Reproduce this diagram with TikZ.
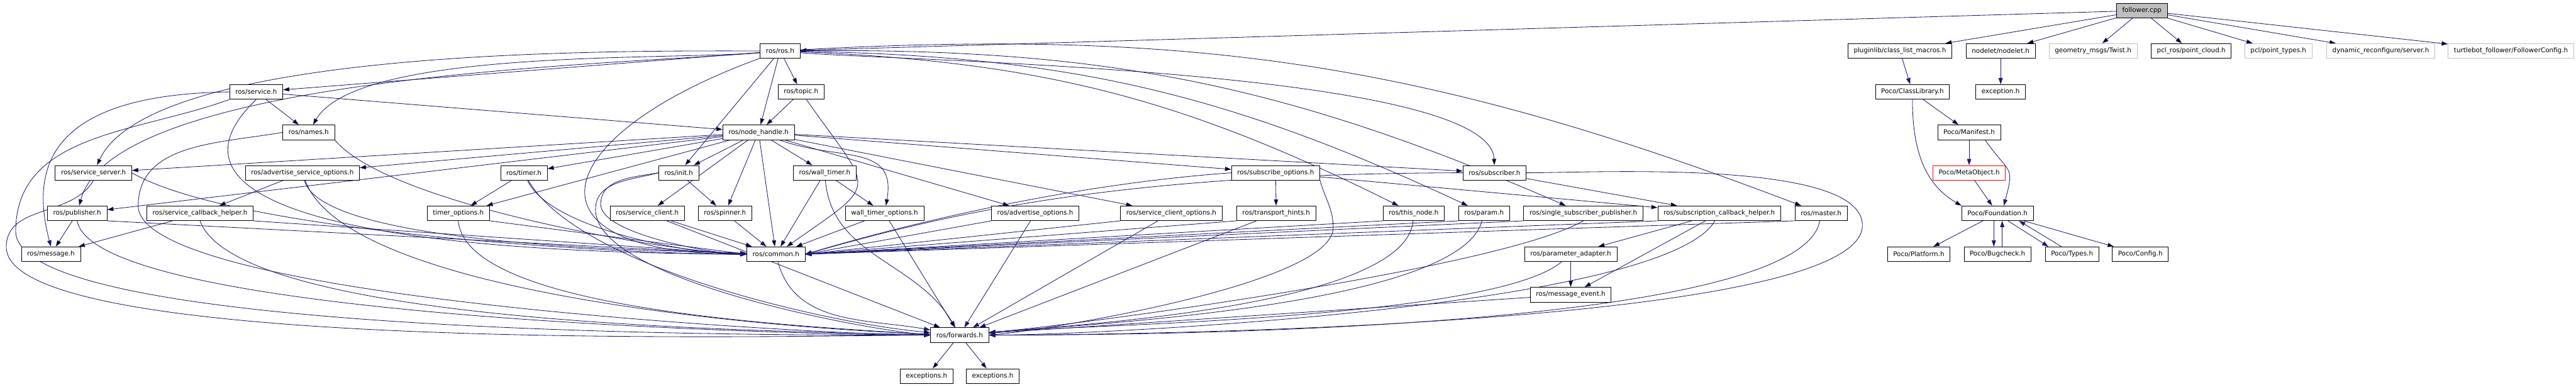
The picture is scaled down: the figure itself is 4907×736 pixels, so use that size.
\documentclass[tikz,border=0pt]{standalone}
\usepackage{fontspec}
\setmainfont{DejaVu Sans}
\usetikzlibrary{arrows.meta}
\definecolor{edgeblue}{HTML}{191970}
\pgfdeclarelayer{back}
\pgfsetlayers{back,main}

\begin{document}
\begin{tikzpicture}[x=0.25pt,y=0.25pt,hdr/.style={draw=black,line width=0.23pt,fill=white,minimum height=7pt,inner xsep=2.75pt,inner ysep=0pt,font=\fontsize{3.1}{3.5}\selectfont},nodoc/.style={hdr,draw=black!25},trunc/.style={hdr,draw=red},root/.style={hdr,fill=black!25},inc/.style={-{Triangle[length=3pt,width=2pt]},draw=edgeblue,line width=0.25pt}]
\useasboundingbox (0,0) rectangle (4907,-736);
\node[root] (follower) at (4080,-20) {follower.cpp};
\node[hdr] (ros) at (1486,-97) {ros/ros.h};
\node[hdr] (pluginlib) at (3619,-97) {pluginlib/class\_list\_macros.h};
\node[hdr] (nodelet) at (3811,-97) {nodelet/nodelet.h};
\node[nodoc] (twist) at (3987,-97) {geometry\_msgs/Twist.h};
\node[hdr] (cloud) at (4174,-97) {pcl\_ros/point\_cloud.h};
\node[nodoc] (ptypes) at (4340,-97) {pcl/point\_types.h};
\node[nodoc] (dynserver) at (4535,-97) {dynamic\_reconfigure/server.h};
\node[nodoc] (fconfig) at (4783,-97) {turtlebot\_follower/FollowerConfig.h};
\node[hdr] (service) at (488,-175) {ros/service.h};
\node[hdr] (topic) at (1526,-175) {ros/topic.h};
\node[hdr] (classlib) at (3643,-175) {Poco/ClassLibrary.h};
\node[hdr] (exception) at (3811,-175) {exception.h};
\node[hdr] (names) at (588,-252) {ros/names.h};
\node[hdr] (nodehandle) at (1445,-252) {ros/node\_handle.h};
\node[hdr] (manifest) at (3751,-252) {Poco/Manifest.h};
\node[hdr] (srvserver) at (178,-329) {ros/service\_server.h};
\node[hdr] (advsrvopt) at (576,-329) {ros/advertise\_service\_options.h};
\node[hdr] (timer) at (998,-329) {ros/timer.h};
\node[hdr] (init) at (1293,-329) {ros/init.h};
\node[hdr] (walltimer) at (1571,-329) {ros/wall\_timer.h};
\node[hdr] (subopt) at (2430,-329) {ros/subscribe\_options.h};
\node[hdr] (subscriber) at (2847,-329) {ros/subscriber.h};
\node[trunc] (metaobject) at (3751,-329) {Poco/MetaObject.h};
\node[hdr] (publisher) at (147,-406) {ros/publisher.h};
\node[hdr] (srvcbhelper) at (381,-406) {ros/service\_callback\_helper.h};
\node[hdr] (timeropt) at (873,-406) {timer\_options.h};
\node[hdr] (srvclient) at (1233,-406) {ros/service\_client.h};
\node[hdr] (spinner) at (1381,-406) {ros/spinner.h};
\node[hdr] (walltimeropt) at (1685,-406) {wall\_timer\_options.h};
\node[hdr] (advopt) at (1972,-406) {ros/advertise\_options.h};
\node[hdr] (srvclientopt) at (2231,-406) {ros/service\_client\_options.h};
\node[hdr] (transport) at (2431,-406) {ros/transport\_hints.h};
\node[hdr] (thisnode) at (2693,-406) {ros/this\_node.h};
\node[hdr] (param) at (2827,-406) {ros/param.h};
\node[hdr] (sspub) at (3016,-406) {ros/single\_subscriber\_publisher.h};
\node[hdr] (subcb) at (3275,-406) {ros/subscription\_callback\_helper.h};
\node[hdr] (master) at (3469,-406) {ros/master.h};
\node[hdr] (foundation) at (3805,-406) {Poco/Foundation.h};
\node[hdr] (message) at (97,-484) {ros/message.h};
\node[hdr] (common) at (1478,-484) {ros/common.h};
\node[hdr] (paramadapter) at (2992,-484) {ros/parameter\_adapter.h};
\node[hdr] (platform) at (3655,-484) {Poco/Platform.h};
\node[hdr] (bugcheck) at (3805,-484) {Poco/Bugcheck.h};
\node[hdr] (types) at (3947,-484) {Poco/Types.h};
\node[hdr] (config) at (4077,-484) {Poco/Config.h};
\node[hdr] (msgevent) at (2992,-561) {ros/message\_event.h};
\node[hdr] (forwards) at (1828,-638) {ros/forwards.h};
\node[hdr] (exca) at (1765,-716) {exceptions.h};
\node[hdr] (excb) at (1891,-716) {exceptions.h};
\begin{pgfonlayer}{back}
\draw[inc] (follower) edge (ros) edge (pluginlib) edge (nodelet) edge (twist) edge (cloud) edge (ptypes) edge (dynserver) edge (fconfig);
\draw[inc] (ros) edge (topic) edge (nodehandle) edge (init) edge (service)
  edge[out=185,in=60,looseness=0.5] (names)
  edge[out=180,in=65,looseness=0.5] (srvserver)
  edge[out=185,in=75,looseness=0.5] (publisher)
  edge[out=200,in=180,looseness=3] (common)
  edge[out=-5,in=92,looseness=0.35] (subscriber)
  edge[bend left=12] (thisnode) edge[bend left=12] (param)
  edge[bend left=12] (sspub) edge[bend left=12] (master);
\draw[inc] (topic) edge (nodehandle) edge[out=-55,in=35,looseness=2] (common);
\draw[inc] (service) edge (names) edge (nodehandle);
\draw[inc] (service.west) .. controls +(-357,-5) and +(-37,140) .. (message.north);
\draw[inc] (service.south) .. controls +(-188,-181) and +(-820,4) .. (common.west);
\draw[inc] (service.south west) to[out=200,in=90] ++(-407,-251) to[out=-90,in=180,looseness=0.3] (forwards.west);
\draw[inc] (names.south east) to[out=-50,in=178,looseness=0.5] (common.west);
\draw[inc] (names.west) to[out=190,in=90] ++(-275,-140) to[out=-90,in=180,looseness=0.3] (forwards.west);
\draw[inc] (srvserver.east) to[out=-30,in=180,looseness=0.5] (common.west);
\draw[inc] (srvserver.south) to[out=-120,in=90] ++(-166,-127) to[out=-90,in=180,looseness=0.3] (forwards.west);
\draw[inc] (advsrvopt) edge (srvcbhelper) edge[out=-75,in=178,looseness=0.4] (common) edge[out=-70,in=178,looseness=0.5] (forwards);
\draw[inc] (timer) edge (timeropt) edge[out=-65,in=180,looseness=0.6] (common.west) edge[out=-60,in=175,looseness=0.6] (forwards);
\draw[inc] (init) edge (spinner);
\draw[inc] (init.west) to[out=190,in=90] ++(-110,-60) to[out=-90,in=180,looseness=0.5] (common.west);
\draw[inc] (init.west) to[out=195,in=90] ++(-120,-70) to[out=-90,in=175,looseness=0.5] (forwards.west);
\draw[inc] (nodehandle) edge (init) edge (walltimer) edge (spinner) edge (common) edge (srvclient) edge (advopt) edge (srvclientopt) edge (subopt) edge (subscriber) edge (timer) edge (advsrvopt) edge (srvserver) edge (publisher) edge (timeropt) edge[out=-20,in=80,looseness=1.3] (walltimeropt);
\draw[inc] (walltimer) edge (walltimeropt) edge (common) edge[out=-85,in=120] (forwards);
\draw[inc] (subopt) edge (transport) edge (subcb);
\draw[inc] (subopt.west) .. controls +(-294,-21) and +(215,64) .. (common.east);
\draw[inc] (subopt.south east) to[out=-75,in=90] ++(25,-90) to[out=-90,in=5,looseness=0.4] (forwards.east);
\draw[inc] (subscriber) edge (subcb);
\draw[inc] (subscriber.west) .. controls +(-686,-1) and +(250,70) .. (common.east);
\draw[inc] (subscriber.east) to[out=0,in=90,looseness=0.5] ++(640,-100) to[out=-90,in=0,looseness=0.3] (forwards.east);
\draw[inc] (publisher) edge (message);
\draw[inc] (publisher.south east) -- (common.west);
\draw[inc] (publisher.south) to[out=-80,in=180,looseness=0.3] (forwards.west);
\draw[inc] (srvcbhelper) edge (message);
\draw[inc] (srvcbhelper.south east) -- (common.west);
\draw[inc] (srvcbhelper.south) to[out=-70,in=178,looseness=0.4] (forwards.west);
\draw[inc] (timeropt.south east) -- (common.west);
\draw[inc] (timeropt.south) to[out=-85,in=175,looseness=0.5] (forwards.west);
\draw[inc] (srvclient) edge (common) edge (forwards);
\draw[inc] (spinner) -- (common);
\draw[inc] (walltimeropt) edge (common) edge (forwards);
\draw[inc] (advopt.south west) -- (common.east);
\draw[inc] (advopt) -- (forwards);
\draw[inc] (srvclientopt.south west) -- (common.east);
\draw[inc] (srvclientopt) -- (forwards);
\draw[inc] (transport.south west) -- (common.east);
\draw[inc] (transport) -- (forwards);
\draw[inc] (thisnode.south west) -- (common.east);
\draw[inc] (thisnode) to[out=-95,in=5,looseness=0.5] (forwards);
\draw[inc] (param.south west) -- (common.east);
\draw[inc] (param) to[out=-105,in=5,looseness=0.45] (forwards);
\draw[inc] (sspub.south west) -- (common.east);
\draw[inc] (sspub.south) to[out=-150,in=5,looseness=0.4] (forwards);
\draw[inc] (subcb) edge (paramadapter) edge (msgevent);
\draw[inc] (subcb.south west) -- (common.east);
\draw[inc] (subcb) to[out=-120,in=0,looseness=0.35] (forwards.east);
\draw[inc] (master.south west) -- (common.east);
\draw[inc] (master) to[out=-100,in=0,looseness=0.35] (forwards.east);
\draw[inc] (paramadapter) edge (msgevent) edge[out=-140,in=5,looseness=0.4] (forwards);
\draw[inc] (msgevent) -- (forwards);
\draw[inc] (common) to[out=-75,in=170] (forwards);
\draw[inc] (forwards) edge (exca) edge (excb);
\draw[inc] (pluginlib) -- (classlib);
\draw[inc] (nodelet) -- (exception);
\draw[inc] (classlib) edge (manifest) edge[out=-90,in=150] (foundation.north west);
\draw[inc] (manifest) -- (metaobject);
\draw[inc] ([xshift=-7.5pt]manifest.south east) to[out=-55,in=75,looseness=1.6] ([xshift=3pt]foundation.north);
\draw[inc] (metaobject) -- (foundation);
\draw[inc] (foundation) edge (platform) edge (config);
\draw[inc] ([xshift=-1.75pt]foundation.south) -- ([xshift=-1.75pt]bugcheck.north);
\draw[inc] ([xshift=2.25pt]bugcheck.north) -- ([xshift=2.25pt]foundation.south);
\draw[inc] ([xshift=5pt]foundation.south) -- ([xshift=-11.25pt]types.north);
\draw[inc] ([xshift=-5pt]types.north) -- ([xshift=10.25pt]foundation.south);
\end{pgfonlayer}
\end{tikzpicture}
\end{document}
